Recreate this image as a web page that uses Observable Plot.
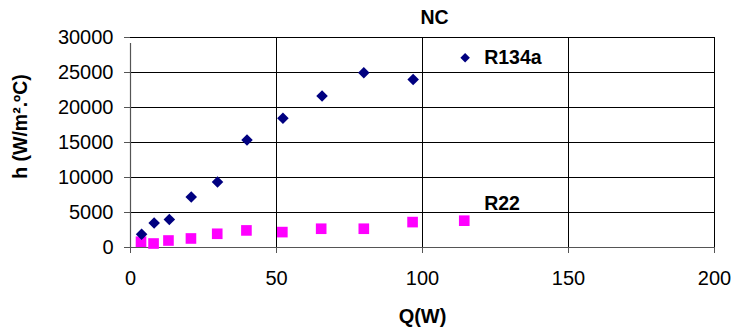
<!DOCTYPE html>
<html>
<head>
<meta charset="utf-8">
<script src="https://cdn.jsdelivr.net/npm/d3@7"></script>
<script src="https://cdn.jsdelivr.net/npm/@observablehq/plot@0.6"></script>
<style>
  html, body { margin: 0; padding: 0; background: #fff; }
</style>
</head>
<body>
<div id="chart"></div>
<script>
const title = "NC";
const xLabel = "Q(W)";
const yLabel = "h (W/m\u00B2.\u00BAC)";
const xTicks = [0, 50, 100, 150, 200];
const yTicks = [0, 5000, 10000, 15000, 20000, 25000, 30000];

const r134aQ = [3.8, 8.1, 13.3, 20.8, 29.8, 39.9, 52.2, 65.6, 79.9, 96.8];
const r134aH = [1900, 3500, 4000, 7200, 9350, 15350, 18450, 21650, 24950, 24000];
const r22Q = [3.6, 7.9, 13.0, 20.7, 29.7, 39.7, 52.0, 65.3, 79.9, 96.6, 114.3];
const r22H = [820, 570, 1000, 1290, 1960, 2440, 2200, 2680, 2680, 3630, 3830];

const seriesNames = ["R134a", "R22"];
const legendPos = [{name: "R134a", x: 114.6, y: 27100, marker: true}, {name: "R22", x: 114.6, y: 6270, marker: false}];

const r134a = r134aQ.map((q, i) => ({q, h: r134aH[i]}));
const r22 = r22Q.map((q, i) => ({q, h: r22H[i]}));

const plot = Plot.plot({
  width: 734,
  height: 328,
  marginLeft: 130,
  marginRight: 20,
  marginTop: 37,
  marginBottom: 81,
  style: {fontFamily: "'Liberation Sans', Arial, sans-serif", fontSize: "20px", color: "#000", background: "#fff"},
  x: {domain: [0, 200], ticks: xTicks},
  y: {domain: [0, 30000], ticks: yTicks},
  marks: [
    Plot.gridX(xTicks.filter(d => d > 0), {stroke: "#000", strokeOpacity: 1, strokeWidth: 1}),
    Plot.gridY(yTicks.filter(d => d > 0), {stroke: "#000", strokeOpacity: 1, strokeWidth: 1}),
    Plot.ruleY([0], {stroke: "#555", strokeWidth: 1.2, x1: 0, x2: 200, insetLeft: -6}),
    Plot.ruleX([0], {stroke: "#555", strokeWidth: 1.2, y1: 0, y2: 30000, insetBottom: -6}),
    Plot.axisX({ticks: xTicks, tickSize: 6, tickPadding: 17, stroke: "#555", label: null, fontSize: 20, tickFormat: d => String(d)}),
    Plot.axisY({ticks: yTicks, tickSize: 6, tickPadding: 11, stroke: "#555", label: null, fontSize: 20, tickFormat: d => String(d)}),
    Plot.dot(r22, {x: "q", y: "h", symbol: "square", r: 6, fill: "#FF00FF", stroke: "none"}),
    Plot.dot(r134a, {x: "q", y: "h", symbol: "diamond2", r: 5.2, fill: "#000080", stroke: "none"}),
    Plot.dot(legendPos.filter(d => d.marker), {x: "x", y: "y", symbol: "diamond2", r: 4.3, fill: "#000080", stroke: "none"}),
    Plot.text(legendPos, {x: "x", y: "y", text: "name", dx: 19, textAnchor: "start", fontWeight: "bold", fontSize: 19.5, fill: "#000"}),
    Plot.text([title], {frameAnchor: "top", lineAnchor: "middle", dx: 12, dy: -20, fontWeight: "bold", fontSize: 19.5, fill: "#000"}),
    Plot.text([xLabel], {frameAnchor: "bottom", lineAnchor: "middle", dy: 69, fontWeight: "bold", fontSize: 20, fill: "#000"}),
    Plot.text([yLabel], {frameAnchor: "left", textAnchor: "middle", lineAnchor: "middle", dx: -110, dy: -16, rotate: -90, fontWeight: "bold", fontSize: 19.5, fill: "#000"})
  ]
});
document.getElementById("chart").appendChild(plot);
</script>
</body>
</html>
